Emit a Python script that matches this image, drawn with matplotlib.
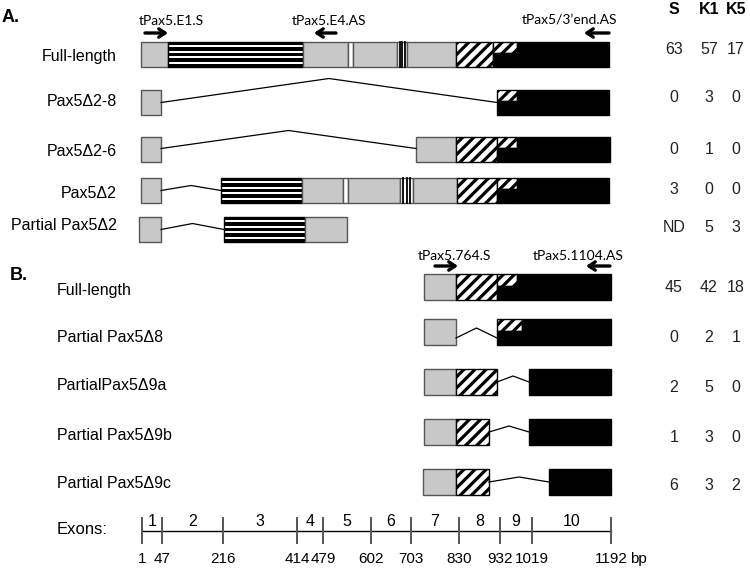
import matplotlib.pyplot as plt
from matplotlib.patches import Rectangle

plt.rcParams['hatch.linewidth'] = 2.3
MAIN_FONT = ['Liberation Sans', 'DejaVu Sans']
NARROW_FONT = ['Liberation Sans Narrow', 'Liberation Sans', 'DejaVu Sans']
PRIMER_FONT = ['Lato', 'DejaVu Sans']

GREY = '#c8c8c8'
EDGE = '#555555'

# exon ruler: bp boundaries and where each one falls on the drawing axis
EXON_BP = [1, 47, 216, 414, 479, 602, 703, 830, 932, 1019, 1192]
EXON_X = [142, 162, 223, 297, 323, 371, 411, 459, 500, 532, 611]
EXON_NUM = ['1', '2', '3', '4', '5', '6', '7', '8', '9', '10']

# panel A transcripts, segments as (start, end, kind) along the drawing axis
A_LABELS = ['Full-length', 'Pax5Δ2-8', 'Pax5Δ2-6', 'Pax5Δ2', 'Partial Pax5Δ2']
A_SEGS = [
    [(141, 168, 'grey'), (168, 303, 'stripe'), (303, 348, 'grey'), (348, 353, 'slit'),
     (353, 397, 'grey'), (397, 407, 'bars'), (407, 456, 'grey'), (456, 493, 'hatch'),
     (493, 517, 'split'), (517, 609, 'black')],
    [(141, 161, 'grey'), (497, 517, 'split'), (517, 609, 'black')],
    [(141, 161, 'grey'), (416, 456, 'grey'), (456, 497, 'hatch'), (497, 517, 'split'),
     (517, 610, 'black')],
    [(141, 161, 'grey'), (221, 302, 'stripe'), (302, 343, 'grey'), (343, 348, 'slit'),
     (348, 400, 'grey'), (400, 413, 'bars'), (413, 457, 'grey'), (457, 497, 'hatch'),
     (497, 517, 'split'), (517, 609, 'black')],
    [(139, 161, 'grey'), (224, 305, 'stripe'), (305, 347, 'grey')],
]
A_TOP = [42, 90, 137, 178, 217]
A_LABEL_Y = [57, 102, 152, 194, 226]
# intron connectors: (end offset, peak offset) from row centre
A_INTRON = [(0, 0), (0, -24), (-1, -19), (0, -5), (0, -6)]

# panel B transcripts
B_LABELS = ['Full-length', 'Partial Pax5Δ8', 'PartialPax5Δ9a', 'Partial Pax5Δ9b',
            'Partial Pax5Δ9c']
B_SEGS = [
    [(424, 456, 'grey'), (456, 497, 'hatch'), (497, 517, 'split'), (517, 611, 'black')],
    [(424, 456, 'grey'), (497, 522, 'split'), (522, 611, 'black')],
    [(424, 456, 'grey'), (456, 497, 'hatch'), (529, 611, 'black')],
    [(424, 456, 'grey'), (456, 489, 'hatch'), (529, 611, 'black')],
    [(423, 456, 'grey'), (456, 489, 'hatch'), (549, 611, 'black')],
]
B_TOP = [274, 319, 369, 419, 469]
B_LABEL_Y = [290, 337, 386, 435, 484]
B_INTRON = [(0, 0), (6, -4), (0, -6), (0, -6), (0, -5)]

# clone counts per library
COUNT_COLS = ['S', 'K1', 'K5']
COUNT_S = ['63', '0', '0', '3', 'ND', '45', '0', '2', '1', '6']
COUNT_K1 = ['57', '3', '1', '0', '5', '42', '2', '5', '3', '3']
COUNT_K5 = ['17', '0', '0', '0', '3', '18', '1', '0', '0', '2']
COUNT_Y = [50, 97, 150, 190, 227, 287, 338, 387, 437, 485]
COUNT_X = [674, 709, 736]

# primers: (name, text x, text y, arrow from, arrow to, arrow y)
PRIMERS = [
    ('tPax5.E1.S', 139, 21, 145, 168, 33),
    ('tPax5.E4.AS', 292, 21, 336, 314, 33),
    ('tPax5/3\u2019end.AS', 522, 20, 609, 584, 33),
    ('tPax5.764.S', 418, 256, 435, 458, 266),
    ('tPax5.1104.AS', 533, 256, 610, 586, 266),
]


def draw_seg(ax, x0, x1, top, h, kind):
    w = x1 - x0
    if kind == 'grey':
        ax.add_patch(Rectangle((x0, top), w, h, fc=GREY, ec=EDGE, lw=1))
    elif kind == 'black':
        ax.add_patch(Rectangle((x0, top), w, h, fc='black', ec='black', lw=1))
    elif kind == 'hatch':
        ax.add_patch(Rectangle((x0, top), w, h, fc='white', ec='black', lw=1, hatch='///'))
    elif kind == 'split':
        ax.add_patch(Rectangle((x0, top), w, h * 0.45, fc='white', ec='black', lw=1,
                               hatch='///'))
        ax.add_patch(Rectangle((x0, top + h * 0.45), w, h * 0.55, fc='black',
                               ec='black', lw=1))
    elif kind == 'stripe':
        ax.add_patch(Rectangle((x0, top), w, h, fc='white', ec='black', lw=1))
        nb = 5
        bh = h * 0.13
        gap = (h - nb * bh) / (nb - 1)
        for i in range(nb):
            ax.add_patch(Rectangle((x0, top + i * (bh + gap)), w, bh, fc='black',
                                   ec='none'))
    elif kind == 'slit':
        ax.add_patch(Rectangle((x0, top), w, h, fc='white', ec=EDGE, lw=1))
    elif kind == 'bars':
        ax.add_patch(Rectangle((x0, top), w, h, fc='white', ec=EDGE, lw=1))
        for f in (0.25, 0.5, 0.75):
            ax.plot([x0 + f * w] * 2, [top, top + h], color='black', lw=1.3)


def draw_row(ax, segs, top, h, intron):
    yc = top + h / 2
    for x0, x1, kind in segs:
        draw_seg(ax, x0, x1, top, h, kind)
    d_end, d_peak = intron
    for (_, e, _), (s, _, _) in zip(segs[:-1], segs[1:]):
        if s - e > 2:
            ax.plot([e, (e + s) / 2, s], [yc + d_end, yc + d_peak, yc + d_end],
                    color='black', lw=0.9)


fig = plt.figure(figsize=(7.5, 5.7), dpi=100)
ax = fig.add_axes([0, 0, 1, 1])
ax.set_xlim(0, 750)
ax.set_ylim(570, 0)
ax.axis('off')

ax.text(2, 17, 'A.', fontsize=13, fontweight='bold', family=MAIN_FONT, va='center')
ax.text(10, 275, 'B.', fontsize=13, fontweight='bold', family=MAIN_FONT, va='center')

for segs, top, ly, lab, intr in zip(A_SEGS, A_TOP, A_LABEL_Y, A_LABELS, A_INTRON):
    draw_row(ax, segs, top, 25, intr)
    ax.text(117, ly, lab, fontsize=11.5, family=MAIN_FONT, ha='right', va='center')

for segs, top, ly, lab, intr in zip(B_SEGS, B_TOP, B_LABEL_Y, B_LABELS, B_INTRON):
    draw_row(ax, segs, top, 26, intr)
    ax.text(57, ly, lab, fontsize=11.5, family=MAIN_FONT, ha='left', va='center')

for name, tx, ty, a0, a1, ay in PRIMERS:
    ax.text(tx, ty, name, fontsize=10, family=PRIMER_FONT, ha='left', va='center')
    ax.annotate('', xy=(a1, ay), xytext=(a0, ay),
                arrowprops=dict(arrowstyle='->,head_length=0.45,head_width=0.3',
                                lw=2.4, color='black', shrinkA=0, shrinkB=0))

# counts table
for col, x in zip(COUNT_COLS, COUNT_X):
    ax.text(x, 10, col, fontsize=11.5, fontweight='bold', family=MAIN_FONT,
            ha='center', va='center')
for vals, x in zip([COUNT_S, COUNT_K1, COUNT_K5], COUNT_X):
    for v, y in zip(vals, COUNT_Y):
        ax.text(x, y, v, fontsize=11.5, family=MAIN_FONT, ha='center', va='center',
                color='#222222')

# exon ruler
ax.plot([EXON_X[0], EXON_X[-1]], [531, 531], color='black', lw=1)
for x in EXON_X:
    ax.plot([x, x], [518, 543], color=EDGE, lw=1.4)
for bp, x in zip(EXON_BP, EXON_X):
    ax.text(x, 559, str(bp), fontsize=11, family=NARROW_FONT, ha='center', va='center')
ax.text(630, 559, 'bp', fontsize=11, family=NARROW_FONT, ha='left', va='center')
for num, x0, x1 in zip(EXON_NUM, EXON_X[:-1], EXON_X[1:]):
    ax.text((x0 + x1) / 2, 522, num, fontsize=11.5, family=NARROW_FONT,
            ha='center', va='center')
ax.text(57, 529, 'Exons:', fontsize=12, family=NARROW_FONT, ha='left', va='center')

fig.savefig('out.png', dpi=100)
